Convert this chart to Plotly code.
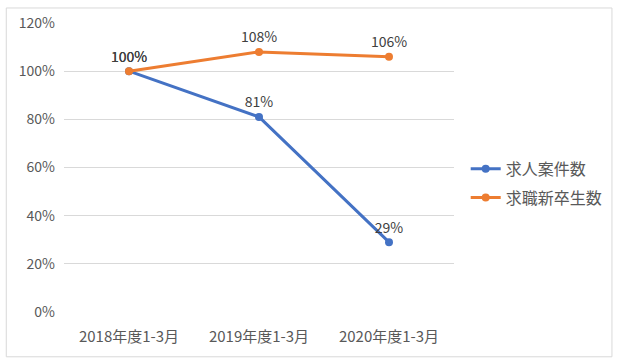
import plotly.graph_objects as go

categories = ["2018年度1-3月", "2019年度1-3月", "2020年度1-3月"]
series_names = ["求人案件数", "求職新卒生数"]
job_offers = [1.00, 0.81, 0.29]
job_seekers = [1.00, 1.08, 1.06]
y_ticks = [0, 0.2, 0.4, 0.6, 0.8, 1.0, 1.2]
y_tick_labels = ["0%", "20%", "40%", "60%", "80%", "100%", "120%"]

colors = ["#4472C4", "#ED7D31"]
font_family = "Noto Sans CJK JP, Liberation Sans, sans-serif"

fig = go.Figure()
for i, (name, vals, col) in enumerate(zip(series_names, [job_offers, job_seekers], colors)):
    fig.add_trace(go.Scatter(
        x=categories, y=vals, name=name, mode="lines+markers+text",
        legendgroup=f"g{i}",
        line=dict(color=col, width=3),
        marker=dict(color=col, size=8),
        text=[f"{round(v*100)}%" for v in vals],
        textposition="top center",
        textfont=dict(size=14, color="#404040", family=font_family),
        cliponaxis=False,
    ))

fig.update_layout(
    width=620, height=364,
    margin=dict(l=64, r=164, t=21, b=52),
    paper_bgcolor="white", plot_bgcolor="white",
    font=dict(family=font_family, color="#595959", size=14),
    showlegend=True,
    legend=dict(x=1.03, y=0.445, xanchor="left", yanchor="middle",
                font=dict(size=16, color="#595959"), itemwidth=30,
                tracegroupgap=5),
    xaxis=dict(range=[-0.5, 2.5], showgrid=False, showline=False, zeroline=False, ticks="",
               ticklabelstandoff=14, tickfont=dict(size=15, color="#595959")),
    yaxis=dict(range=[0, 1.2], tickvals=y_ticks, ticktext=y_tick_labels,
               showgrid=True, gridcolor="#D9D9D9", gridwidth=1,
               zeroline=False, showline=False, ticks="",
               ticklabelstandoff=8, tickfont=dict(size=14, color="#595959")),
    shapes=[dict(type="rect", xref="paper", yref="paper",
                 x0=-0.148, x1=1.405, y0=-0.155, y1=1.052,
                 line=dict(color="#D9D9D9", width=1), fillcolor="rgba(0,0,0,0)")],
)

fig.write_html("out.html", config={"displayModeBar": False},
               post_script="document.body.style.margin='0';")
